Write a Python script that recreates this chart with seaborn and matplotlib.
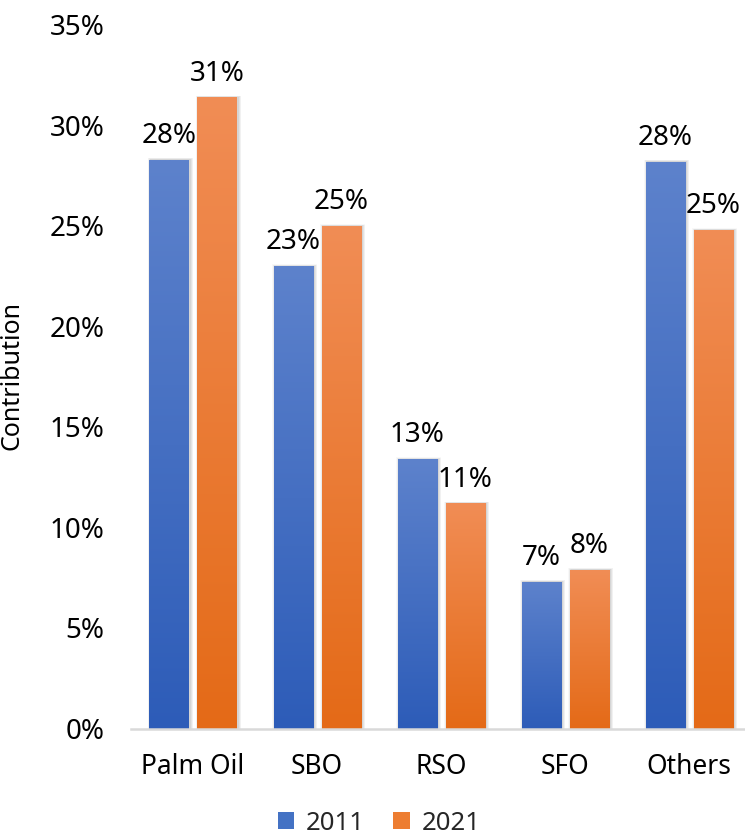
import numpy as np
import pandas as pd
import matplotlib
matplotlib.use("Agg")
import matplotlib.pyplot as plt
import seaborn as sns
from matplotlib.colors import LinearSegmentedColormap
from matplotlib.patches import Patch, Rectangle
from matplotlib.ticker import PercentFormatter, MultipleLocator

# Share of each oil in total consumption
categories = ["Palm Oil", "SBO", "RSO", "SFO", "Others"]
years = ["2011", "2021"]
share_2011 = [0.283, 0.230, 0.134, 0.073, 0.282]
share_2021 = [0.314, 0.250, 0.112, 0.079, 0.248]

df = pd.DataFrame({
    "Oil": categories * 2,
    "Year": [years[0]] * len(categories) + [years[1]] * len(categories),
    "Contribution": share_2011 + share_2021,
})

sns.set_theme(style="white")
plt.rcParams["font.family"] = ["Noto Sans", "DejaVu Sans"]

W, H = 745, 834
fig = plt.figure(figsize=(W / 100, H / 100), dpi=100)
ax = fig.add_axes([131 / W, 1 - 728.5 / H, (W - 131) / W, (728.5 - 25) / H])

base = {"2011": "#4472C4", "2021": "#ED7D31"}
# (bottom, top) colours of the vertical gradient fill
grad = {"2011": ("#2D5CB8", "#5D82CC"), "2021": ("#E46A17", "#F18D55")}

sns.barplot(data=df, x="Oil", y="Contribution", hue="Year", hue_order=years,
            palette=base, width=0.774, gap=0.186, saturation=1,
            legend=False, ax=ax)

ax.set_ylim(0, 0.35)
ax.set_xlim(-0.5, 4.45)

# pixel sizes in data units for the soft shadow
px_x = 4.95 / (W - 131)
px_y = 0.35 / (728.5 - 25)

grad_y = np.linspace(0, 1, 256).reshape(-1, 1)
for year, container in zip(years, ax.containers):
    cmap = LinearSegmentedColormap.from_list(year, list(grad[year]))
    vals = share_2011 if year == "2011" else share_2021
    for bar in container:
        x0 = bar.get_x()
        w = bar.get_width()
        h = bar.get_height()
        # soft drop shadow, slightly offset to the right
        for k in range(1, 7):
            ax.add_patch(Rectangle((x0 - k * px_x * 0.5 + 1.5 * px_x, 0),
                                   w + k * px_x * 1.0, h + k * px_y * 0.3,
                                   facecolor="#000000", edgecolor="none",
                                   alpha=0.028, zorder=1))
        ax.imshow(grad_y, cmap=cmap, extent=[x0, x0 + w, 0, h], origin="lower",
                  aspect="auto", zorder=2, interpolation="bilinear")
        bar.set_facecolor("none")
        bar.set_edgecolor("none")
        bar.set_zorder(3)
    ax.bar_label(container, labels=[f"{v:.0%}" for v in vals],
                 padding=7, fontsize=20, color="#000000")

ax.set_xlim(-0.5, 4.45)
ax.set_ylim(0, 0.35)

ax.yaxis.set_major_locator(MultipleLocator(0.05))
ax.yaxis.set_major_formatter(PercentFormatter(1.0, decimals=0))
ax.tick_params(axis="y", length=0, pad=19, labelsize=20, labelcolor="#000000")
ax.tick_params(axis="x", length=0, pad=18, labelsize=19, labelcolor="#000000")

for side in ["left", "top", "right"]:
    ax.spines[side].set_visible(False)
ax.spines["bottom"].set_color("#D9D9D9")
ax.spines["bottom"].set_linewidth(1.8)
ax.spines["bottom"].set_zorder(4)

ax.set_xlabel("")
ax.set_ylabel("Contribution", fontsize=18, color="#000000")
ax.yaxis.set_label_coords((25 - 131) / (W - 131), (728.5 - 376) / (728.5 - 25))

handles = [Patch(facecolor=base[y], edgecolor="none", label=y) for y in years]
fig.legend(handles=handles, loc="center", bbox_to_anchor=(379 / W, 1 - 823 / H),
           ncol=2, frameon=False, fontsize=18.5, handlelength=0.65,
           handleheight=0.65, handletextpad=0.45, columnspacing=1.1,
           borderaxespad=0, borderpad=0)

fig.savefig("out.png", dpi=100)
